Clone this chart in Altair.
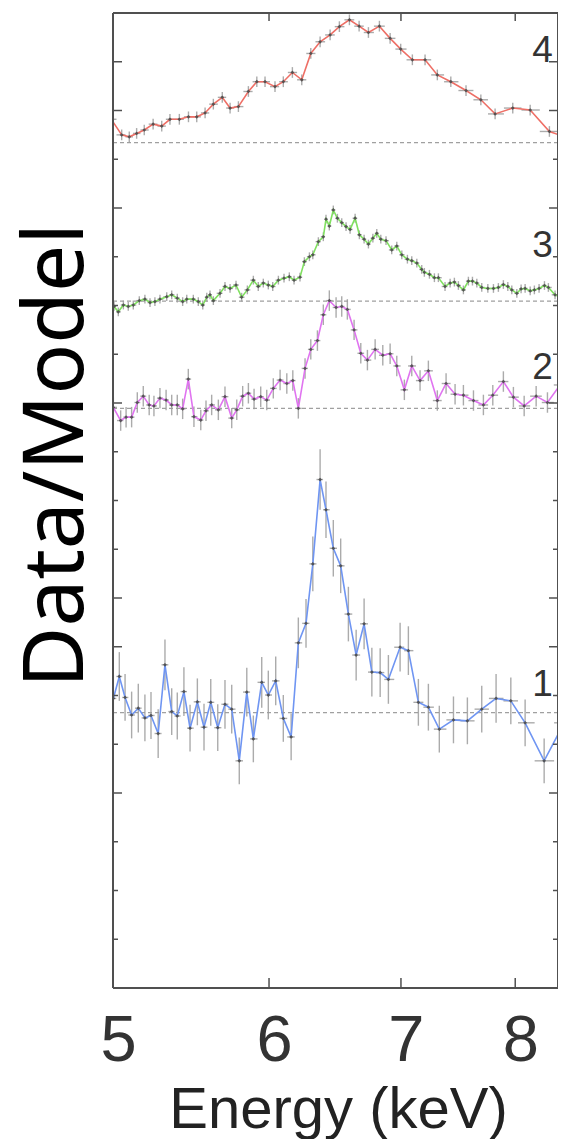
import altair as alt
import pandas as pd
import numpy as np

# ---------------- data ----------------
# Energy (keV) and stacked Data/Model value (offset included) for each spectrum
energy_4 = [4.99, 5.051, 5.096, 5.140, 5.186, 5.240, 5.293, 5.344, 5.403, 5.461, 5.514, 5.568, 5.622,
            5.681, 5.733, 5.789, 5.857, 5.915, 5.972, 6.042, 6.101, 6.166, 6.234, 6.300, 6.369, 6.444,
            6.514, 6.591, 6.666, 6.739, 6.826, 6.912, 6.998, 7.094, 7.200, 7.304, 7.420, 7.553, 7.685,
            7.814, 7.977, 8.141, 8.326, 8.49]
value_4 = [17.82, 17.50, 17.46, 17.53, 17.60, 17.72, 17.68, 17.82, 17.82, 17.87, 17.87, 17.95, 18.13,
           18.27, 18.05, 18.08, 18.39, 18.59, 18.59, 18.49, 18.59, 18.78, 18.63, 19.17, 19.41, 19.55,
           19.72, 19.86, 19.73, 19.60, 19.73, 19.48, 19.26, 19.04, 19.04, 18.73, 18.59, 18.41, 18.22,
           17.93, 18.05, 18.01, 17.57, 17.45]

energy_3 = [5.006, 5.031, 5.061, 5.090, 5.120, 5.156, 5.190, 5.221, 5.251, 5.282, 5.324, 5.355, 5.390,
            5.424, 5.450, 5.492, 5.524, 5.553, 5.579, 5.600, 5.622, 5.666, 5.699, 5.733, 5.773, 5.811,
            5.850, 5.891, 5.925, 5.960, 5.995, 6.026, 6.066, 6.106, 6.144, 6.178, 6.221, 6.253, 6.290,
            6.315, 6.356, 6.393, 6.413, 6.438, 6.468, 6.499, 6.532, 6.565, 6.596, 6.635, 6.668, 6.705,
            6.739, 6.774, 6.805, 6.837, 6.879, 6.925, 6.966, 7.007, 7.053, 7.089, 7.131, 7.172, 7.194,
            7.237, 7.279, 7.313, 7.370, 7.414, 7.451, 7.486, 7.530, 7.574, 7.610, 7.649, 7.693, 7.748,
            7.799, 7.844, 7.890, 7.931, 7.968, 8.015, 8.055, 8.093, 8.141, 8.181, 8.226, 8.278, 8.316,
            8.381, 8.421, 8.473]
value_3 = [13.98, 13.87, 14.01, 13.98, 14.01, 14.10, 14.13, 14.06, 14.08, 14.13, 14.18, 14.22, 14.15,
           14.08, 14.13, 14.13, 14.08, 14.01, 14.17, 14.22, 14.10, 14.25, 14.39, 14.35, 14.42, 14.17,
           14.32, 14.52, 14.39, 14.46, 14.42, 14.39, 14.52, 14.56, 14.59, 14.52, 14.58, 14.90, 15.00,
           15.04, 15.31, 15.41, 15.77, 15.63, 15.96, 15.79, 15.70, 15.62, 15.56, 15.79, 15.45, 15.36,
           15.26, 15.38, 15.48, 15.36, 15.33, 15.14, 15.22, 15.04, 14.95, 14.92, 14.87, 14.74, 14.68,
           14.64, 14.57, 14.57, 14.39, 14.46, 14.48, 14.41, 14.32, 14.50, 14.50, 14.46, 14.37, 14.35,
           14.35, 14.37, 14.43, 14.39, 14.32, 14.25, 14.34, 14.35, 14.30, 14.32, 14.35, 14.41, 14.37,
           14.22, 14.18, 14.25]

energy_2 = [5.002, 5.045, 5.077, 5.110, 5.144, 5.180, 5.216, 5.245, 5.282, 5.320, 5.355, 5.390, 5.424,
            5.460, 5.496, 5.540, 5.574, 5.611, 5.655, 5.699, 5.744, 5.778, 5.818, 5.857, 5.896, 5.942,
            5.984, 6.030, 6.078, 6.126, 6.169, 6.209, 6.258, 6.300, 6.349, 6.393, 6.438, 6.489, 6.532,
            6.575, 6.627, 6.679, 6.731, 6.792, 6.853, 6.912, 6.966, 7.028, 7.089, 7.158, 7.228, 7.304,
            7.379, 7.457, 7.530, 7.619, 7.708, 7.793, 7.890, 7.983, 8.084, 8.198, 8.307, 8.431, 8.49]
value_2 = [11.91, 11.64, 11.71, 11.71, 12.01, 12.14, 11.96, 11.94, 12.10, 12.06, 11.96, 11.96, 11.88,
           12.49, 11.72, 11.65, 11.84, 11.96, 11.86, 12.13, 11.69, 11.86, 12.14, 12.20, 12.08, 12.13,
           12.06, 12.30, 12.47, 12.40, 12.46, 11.89, 12.71, 13.10, 13.28, 13.81, 14.10, 13.96, 13.98,
           13.92, 13.50, 13.02, 12.88, 13.10, 12.98, 13.01, 12.76, 12.27, 12.76, 12.46, 12.66, 12.05,
           12.40, 12.18, 12.16, 12.05, 11.96, 12.16, 12.44, 12.12, 11.94, 12.14, 12.01, 12.37, 12.27]

energy_1 = [5.002, 5.037, 5.071, 5.110, 5.150, 5.190, 5.227, 5.271, 5.313, 5.355, 5.390, 5.432, 5.471,
            5.518, 5.561, 5.605, 5.651, 5.699, 5.744, 5.795, 5.846, 5.891, 5.949, 5.995, 6.047, 6.101,
            6.157, 6.209, 6.265, 6.315, 6.369, 6.413, 6.468, 6.524, 6.583, 6.643, 6.705, 6.766, 6.832,
            6.898, 6.993, 7.061, 7.144, 7.228, 7.321, 7.443, 7.565, 7.693, 7.823, 7.959, 8.093, 8.275,
            8.470]
value_1 = [5.94, 6.39, 5.96, 5.60, 5.74, 5.54, 5.59, 5.22, 6.63, 5.67, 5.58, 6.08, 5.33, 5.87, 5.35,
           5.86, 5.34, 5.82, 5.72, 4.66, 6.07, 5.11, 6.27, 6.01, 6.30, 5.53, 5.15, 7.08, 7.48, 8.70,
           10.43, 9.81, 9.02, 8.66, 7.67, 6.83, 7.47, 6.48, 6.47, 6.33, 6.99, 6.92, 5.86, 5.76, 5.31,
           5.50, 5.48, 5.72, 5.94, 5.89, 5.44, 4.66, 5.44]
error_1 = [0.48, 0.50, 0.48, 0.48, 0.50, 0.48, 0.48, 0.50, 0.52, 0.48, 0.48, 0.50, 0.48, 0.48, 0.48,
           0.48, 0.48, 0.50, 0.50, 0.48, 0.50, 0.48, 0.52, 0.50, 0.50, 0.48, 0.48, 0.52, 0.50, 0.56,
           0.62, 0.58, 0.58, 0.56, 0.56, 0.52, 0.52, 0.50, 0.50, 0.50, 0.50, 0.50, 0.48, 0.48, 0.48,
           0.48, 0.48, 0.48, 0.50, 0.48, 0.48, 0.46, 0.46]
error_2 = 0.21
error_3 = 0.09
error_4 = 0.11

series_names = ["1", "2", "3", "4"]
series_colors = ["#6f95f2", "#e074f0", "#80e060", "#ee6f66"]
unity_levels = [5.65, 11.89, 14.09, 17.34]       # dashed "Data/Model = 1" line of each spectrum
label_energy = [8.26, 8.26, 8.26, 8.26]
label_level = [6.0, 12.5, 15.0, 19.0]

x_ticks = [5, 6, 7, 8]
y_ticks_long = [4, 7, 8, 12, 16, 18, 19]
y_ticks_short = [1, 2, 3, 5, 6, 9, 10, 11, 13, 14, 15, 17]

# ---------------- tables ----------------
rows = []
spectra = [("1", energy_1, value_1, error_1),
           ("2", energy_2, value_2, [error_2] * len(energy_2)),
           ("3", energy_3, value_3, [error_3] * len(energy_3)),
           ("4", energy_4, value_4, [error_4] * len(energy_4))]
for name, en, val, err in spectra:
    en = np.array(en, dtype=float)
    mids = np.sqrt(en[1:] * en[:-1])
    lo = np.concatenate([[en[0] ** 2 / mids[0]], mids])
    hi = np.concatenate([mids, [en[-1] ** 2 / mids[-1]]])
    for i in range(len(en)):
        rows.append(dict(series=name, E=en[i], v=val[i], vlo=val[i] - err[i], vhi=val[i] + err[i],
                         Elo=lo[i], Ehi=hi[i]))
df = pd.DataFrame(rows)

unity_df = pd.DataFrame({"v": unity_levels})
label_df = pd.DataFrame({"t": series_names, "E": label_energy, "v": label_level})
xt_df = pd.DataFrame({"E": x_ticks})
ytl_df = pd.DataFrame({"v": y_ticks_long})
yts_df = pd.DataFrame({"v": y_ticks_short})

W, H = 445, 975
XDOM = [5, 8.41]
YDOM = [0, 20]
FRAME = "#505050"

x_axis = alt.Axis(values=x_ticks, grid=False, ticks=False, tickSize=0, domain=False,
                  labelFont="Liberation Sans", labelFontSize=65, labelColor="#333333",
                  labelBaseline="alphabetic", labelPadding=72, labelFlush=False, labelOffset=5,
                  title="Energy (keV)", titleFont="Liberation Sans", titleFontSize=58,
                  titleFontWeight="normal", titleColor="#222222", titleBaseline="alphabetic",
                  titleY=139, titleX=225)
y_axis = alt.Axis(grid=False, ticks=False, labels=False, domain=False, tickSize=0,
                  title="Data/Model", titleFont="Noto Sans", titleFontSize=84,
                  titleFontWeight="normal", titleColor="#000000", titleBaseline="alphabetic",
                  titleAngle=270, titleX=-31, titleY=442, titleAlign="center")


def X(f):
    return alt.X(f, type="quantitative", scale=alt.Scale(type="log", domain=XDOM, nice=False), axis=x_axis)


def Y(f):
    return alt.Y(f, type="quantitative", scale=alt.Scale(domain=YDOM, nice=False, zero=False), axis=y_axis)


color = alt.Color("series:N", scale=alt.Scale(domain=series_names, range=series_colors), legend=None)

base = alt.Chart(df)

unity = alt.Chart(unity_df).mark_rule(color="#a0a0a0", strokeDash=[4, 3], strokeWidth=1.2).encode(y=Y("v"))

yerr = base.mark_rule(color="#9c9c9c", strokeWidth=1.4, opacity=0.85, clip=True).encode(
    x=X("E"), y=Y("vlo"), y2="vhi")
xerr = base.mark_rule(color="#9c9c9c", strokeWidth=1.4, opacity=0.85, clip=True).encode(
    x=X("Elo"), x2="Ehi", y=Y("v"))
lines = base.mark_line(strokeWidth=1.6, clip=True).encode(
    x=X("E"), y=Y("v"), color=color, detail="series:N", order="E:Q")
pts = base.mark_point(shape="diamond", filled=True, size=14, color="#4a4a4a", opacity=0.9, clip=True).encode(
    x=X("E"), y=Y("v"))

labels = alt.Chart(label_df).mark_text(font="Liberation Sans", fontSize=37, color="#333333",
                                       align="center", baseline="alphabetic").encode(
    x=X("E"), y=Y("v"), text="t:N")

xt_bottom = alt.Chart(xt_df).mark_rule(color=FRAME, strokeWidth=1.5).encode(
    x=X("E"), y=alt.value(H - 10), y2=alt.value(H))
xt_top = alt.Chart(xt_df).mark_rule(color=FRAME, strokeWidth=1.5).encode(
    x=X("E"), y=alt.value(0), y2=alt.value(8))
ytl_left = alt.Chart(ytl_df).mark_rule(color=FRAME, strokeWidth=1.5).encode(
    y=Y("v"), x=alt.value(0), x2=alt.value(9))
yts_left = alt.Chart(yts_df).mark_rule(color=FRAME, strokeWidth=1.5).encode(
    y=Y("v"), x=alt.value(0), x2=alt.value(5))
ytl_right = alt.Chart(ytl_df).mark_rule(color=FRAME, strokeWidth=1.5).encode(
    y=Y("v"), x=alt.value(W - 9), x2=alt.value(W))
yts_right = alt.Chart(yts_df).mark_rule(color=FRAME, strokeWidth=1.5).encode(
    y=Y("v"), x=alt.value(W - 5), x2=alt.value(W))

# plot frame
frame_left = alt.Chart(unity_df).mark_rule(color=FRAME, strokeWidth=1.8).encode(
    x=alt.value(0), y=alt.value(0), y2=alt.value(H))
frame_right = alt.Chart(unity_df).mark_rule(color=FRAME, strokeWidth=1.8).encode(
    x=alt.value(W), y=alt.value(0), y2=alt.value(H))
frame_top = alt.Chart(unity_df).mark_rule(color=FRAME, strokeWidth=1.8).encode(
    y=alt.value(0), x=alt.value(0), x2=alt.value(W))
frame_bottom = alt.Chart(unity_df).mark_rule(color=FRAME, strokeWidth=1.8).encode(
    y=alt.value(H), x=alt.value(0), x2=alt.value(W))

chart = alt.layer(
    unity, yerr, xerr, lines, pts, labels,
    xt_bottom, xt_top, ytl_left, yts_left, ytl_right, yts_right,
    frame_left, frame_right, frame_top, frame_bottom
).properties(
    width=W, height=H,
    autosize=alt.AutoSizeParams(type="none"),
    padding={"left": 105, "top": 5, "right": 0, "bottom": 151},
).configure_view(
    strokeWidth=0
).configure(background="white")

chart.save("out.html", embed_options={"renderer": "svg", "actions": False})
